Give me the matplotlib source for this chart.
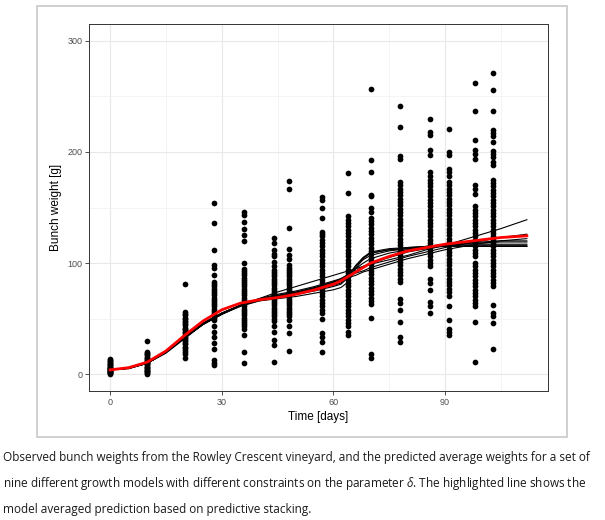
"""Bunch weight growth - Rowley Crescent"""
# observed bunch weights + nine growth model predictions and the stacked average

import numpy as np
import matplotlib
matplotlib.use("Agg")
import matplotlib.pyplot as plt
from matplotlib.patches import Rectangle

plt.rcParams['font.family'] = ['Liberation Sans', 'DejaVu Sans']
plt.rcParams['mathtext.fontset'] = 'custom'
plt.rcParams['mathtext.it'] = 'Open Sans:italic'
plt.rcParams['mathtext.rm'] = 'Open Sans'

# observed weights per sampling day
obs = {
    0: [0, 1, 1, 2, 2, 3, 3, 4, 4, 5, 5, 6, 6, 7, 7, 8, 8, 9, 10, 11, 12, 13, 14],
    10: [0, 1, 2, 3, 3, 4, 5, 6, 7, 7, 8, 9, 10, 10, 11, 12, 13, 14, 15, 16, 17, 18, 19, 20, 30],
    20: [15, 18, 20, 22, 24, 25, 27, 28, 30, 31, 33, 34, 35, 37, 38, 40, 41, 42, 44, 45, 47, 48,
         50, 51, 53, 54, 56, 81],
    28: [154, 136, 112, 98, 96, 89, 83, 81, 79, 77, 75, 73, 71, 69, 67, 65, 63, 61, 59, 57, 55,
         53, 51, 49, 43, 38, 34, 28, 23, 13, 10, 8],
    36: [146, 143, 137, 131, 125, 120, 100, 95, 93, 91, 89, 87, 85, 83, 81, 79, 77, 75, 73, 71,
         69, 67, 65, 63, 61, 59, 57, 55, 53, 51, 49, 47, 45, 43, 41, 35, 20, 10],
    44: [123, 118, 112, 108, 106, 101, 97, 94, 92, 90, 88, 86, 84, 82, 80, 78, 76, 74, 72, 70,
         68, 66, 64, 62, 60, 58, 56, 54, 52, 50, 48, 43, 38, 31, 26, 11],
    48: [174, 167, 132, 113, 107, 104, 98, 96, 94, 92, 90, 88, 86, 84, 82, 80, 78, 76, 74, 72,
         70, 68, 66, 64, 62, 60, 58, 56, 54, 52, 49, 43, 37, 21],
    57: [159, 157, 150, 141, 128, 126, 124, 121, 118, 115, 112, 109, 106, 103, 100, 97, 94, 91,
         88, 85, 82, 79, 76, 73, 70, 67, 64, 61, 58, 55, 50, 37, 34, 29, 20],
    64: [181, 163, 142, 139, 136, 133, 130, 127, 124, 121, 118, 115, 112, 109, 106, 103, 100, 97,
         94, 91, 88, 85, 82, 79, 76, 73, 70, 67, 64, 61, 58, 55, 52, 49, 46, 43, 38, 35],
    70: [257, 193, 182, 161, 160, 150, 146, 141, 138, 135, 132, 129, 126, 123, 120, 117, 114, 111,
         108, 105, 102, 99, 96, 93, 90, 87, 84, 81, 78, 75, 72, 69, 66, 63, 51, 18, 15],
    78: [241, 222, 196, 194, 173, 170, 167, 164, 161, 158, 155, 152, 149, 146, 143, 140, 137, 134,
         131, 128, 125, 122, 119, 116, 113, 110, 107, 104, 101, 98, 95, 92, 89, 86, 83, 68, 64,
         58, 47, 34, 29],
    86: [230, 218, 215, 202, 197, 182, 178, 175, 172, 169, 166, 163, 160, 157, 154, 151, 148, 145,
         142, 139, 136, 133, 130, 127, 124, 121, 118, 115, 112, 109, 106, 103, 100, 97, 86, 82,
         76, 65, 61, 55],
    91: [221, 200, 197, 185, 182, 178, 173, 170, 167, 164, 161, 158, 155, 152, 149, 146, 143, 140,
         137, 134, 131, 128, 125, 122, 119, 116, 113, 110, 107, 104, 101, 98, 95, 92, 89, 86, 83,
         80, 77, 74, 70, 61, 49, 41, 38, 35],
    98: [262, 237, 211, 202, 198, 194, 170, 167, 162, 151, 148, 145, 142, 139, 136, 133, 130, 127,
         124, 121, 118, 115, 112, 109, 106, 100, 97, 94, 91, 88, 85, 82, 79, 76, 73, 70, 67, 64,
         61, 47, 11],
    103: [271, 256, 237, 220, 217, 214, 209, 201, 198, 195, 191, 188, 175, 172, 169, 166, 163, 160,
          157, 154, 151, 148, 145, 142, 139, 136, 133, 130, 127, 124, 121, 118, 115, 112, 109, 106,
          103, 100, 97, 94, 91, 88, 85, 82, 79, 62, 55, 52, 46, 23],
}

# model predictions
t_pred = [0, 5, 10, 15, 20, 25, 30, 35, 40, 45, 50, 55, 60, 62, 64, 66, 68, 70,
          75, 80, 85, 90, 95, 100, 105, 112]
models = [
    [4, 5.5, 10, 20, 33, 45, 54, 62, 68, 74, 79, 84, 89, 91, 93, 95, 97, 99, 103, 107, 112, 116, 121, 126, 131, 139],
    [4, 5.5, 10, 20, 33, 46, 55, 62, 66, 69, 72, 75, 79, 81, 87, 97, 105, 110, 113, 114, 115, 115, 115, 115, 115, 115],
    [4, 5, 10, 19, 32, 45, 54, 61, 66, 68, 70, 73, 76, 78, 83, 95, 104, 109, 112, 113, 114, 115, 115, 115, 115, 115],
    [4, 5.5, 10, 20, 33, 46, 55, 62, 67, 71, 74, 78, 83, 86, 90, 97, 103, 107, 111, 113, 115, 116, 117, 117, 117, 117],
    [4, 5.5, 10, 20, 33, 45, 55, 62, 68, 72, 75, 79, 84, 86, 89, 93, 97, 100, 105, 110, 113, 116, 118, 119, 120, 120],
    [4, 5.5, 10, 20, 33, 45, 54, 62, 67, 70, 73, 77, 82, 84, 87, 89, 92, 94, 99, 104, 108, 112, 115, 118, 120, 122],
    [4, 5.5, 10, 20, 33, 45, 54, 62, 67, 71, 74, 78, 83, 85, 88, 91, 93, 96, 101, 106, 110, 114, 117, 120, 123, 126],
    [4, 5.5, 10, 20, 33, 46, 55, 62, 67, 69, 72, 76, 80, 82, 88, 98, 105, 109, 112, 114, 115, 116, 116, 116, 116, 116],
    [4, 5.5, 10, 20, 33, 45, 54, 62, 67, 70, 73, 77, 81, 84, 89, 95, 100, 104, 109, 112, 115, 117, 118, 118, 119, 119],
]
stacked = [4, 6, 11, 21, 35, 48, 58, 64, 67, 69, 72, 76, 81, 84, 88, 92, 96, 100,
           106, 111, 114, 117, 119, 121, 123, 124.5]

caption = ["Observed bunch weights from the Rowley Crescent vineyard, and the predicted average weights for a set of",
           "nine different growth models with different constraints on the parameter $\\delta$. The highlighted line shows the",
           "model averaged prediction based on predictive stacking."]

fig = plt.figure(figsize=(6.05, 5.2), dpi=100)

# light frame around the chart image
fig.patches.append(Rectangle((37 / 605, 1 - 437 / 520), 530 / 605, 431 / 520,
                             transform=fig.transFigure, fill=False,
                             edgecolor="#c8c8c8", linewidth=1.2))

ax = fig.add_axes([89.3 / 605, 1 - 391 / 520, 458.4 / 605, 367 / 520])

for day, vals in obs.items():
    ax.scatter(np.full(len(vals), day), vals, s=17, color="black", linewidths=0, zorder=3)

for m in models:
    ax.plot(t_pred, m, color="black", lw=0.8, zorder=4)
ax.plot(t_pred, stacked, color="red", lw=2.0, zorder=5)

ax.set_xlim(-5.6, 117.6)
ax.set_ylim(-15, 315)
ax.set_xticks([0, 30, 60, 90])
ax.set_yticks([0, 100, 200, 300])
ax.set_xticks([15, 45, 75, 105], minor=True)
ax.set_yticks([50, 150, 250], minor=True)
ax.grid(True, which="major", color="#e8e8e8", lw=0.8)
ax.grid(True, which="minor", color="#f2f2f2", lw=0.6)
ax.set_axisbelow(True)
ax.tick_params(which="minor", length=0)
ax.tick_params(which="major", length=3, width=0.6, color="#333333",
               labelsize=6.5, labelcolor="#4d4d4d", pad=2)
for sp in ax.spines.values():
    sp.set_color("#333333")
    sp.set_linewidth(0.7)

ax.set_xlabel("Time [days]", fontsize=8.5, labelpad=3)
ax.set_ylabel("Bunch weight [g]", fontsize=8.5, labelpad=4)

for i, line in enumerate(caption):
    fig.text(3 / 605, 1 - (458 + 25.5 * i) / 520, line, family="Open Sans",
             fontsize=8.5, va="center", ha="left", color="#1a1a1a")

fig.savefig("out.png", dpi=100)
